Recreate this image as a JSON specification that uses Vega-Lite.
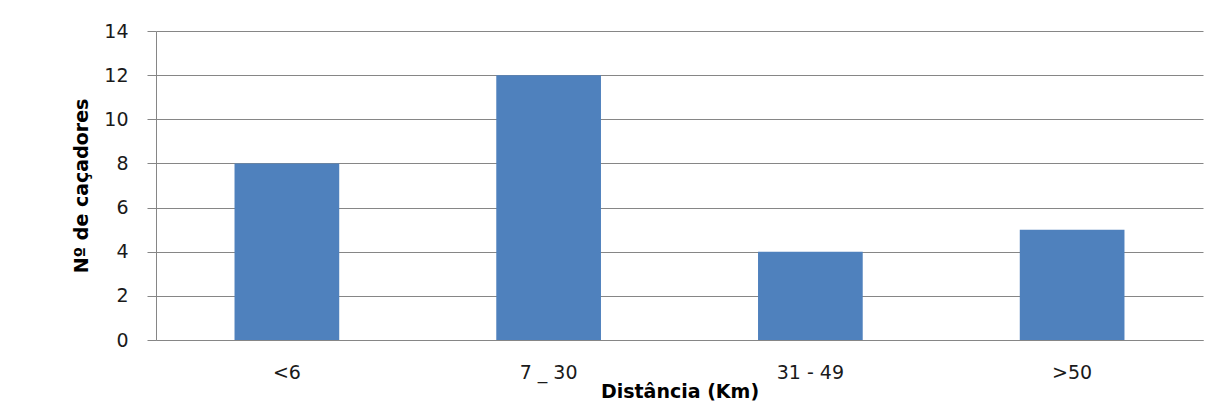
{
  "$schema": "https://vega.github.io/schema/vega-lite/v6.json",
  "width": 1047,
  "height": 309,
  "autosize": {"type": "none"},
  "padding": {"left": 156, "top": 31, "right": 17, "bottom": 68},
  "background": "white",
  "data": {
    "values": [
      {"distancia": "<6", "cacadores": 8},
      {"distancia": "7 _ 30", "cacadores": 12},
      {"distancia": "31 - 49", "cacadores": 4},
      {"distancia": ">50", "cacadores": 5}
    ]
  },
  "mark": {"type": "bar", "color": "#4F81BD"},
  "encoding": {
    "x": {
      "field": "distancia",
      "type": "nominal",
      "sort": null,
      "scale": {"paddingInner": 0.6, "paddingOuter": 0.3},
      "axis": {
        "title": "Distância (Km)",
        "labelAngle": 0,
        "ticks": false,
        "labelPadding": 23,
        "titlePadding": 0,
        "domainColor": "#868686",
        "grid": false
      }
    },
    "y": {
      "field": "cacadores",
      "type": "quantitative",
      "scale": {"domain": [0, 14]},
      "axis": {
        "title": "Nº de caçadores",
        "values": [0, 2, 4, 6, 8, 10, 12, 14],
        "tickSize": 9,
        "tickColor": "#868686",
        "labelPadding": 19,
        "titlePadding": 12,
        "domainColor": "#868686",
        "gridColor": "#868686",
        "gridOpacity": 1
      }
    }
  },
  "config": {
    "view": {"stroke": null},
    "axis": {
      "labelFont": "DejaVu Sans",
      "labelFontSize": 19,
      "labelColor": "#1a1a1a",
      "titleFont": "DejaVu Sans",
      "titleFontSize": 19,
      "titleFontWeight": "bold",
      "titleColor": "#000000"
    }
  }
}
